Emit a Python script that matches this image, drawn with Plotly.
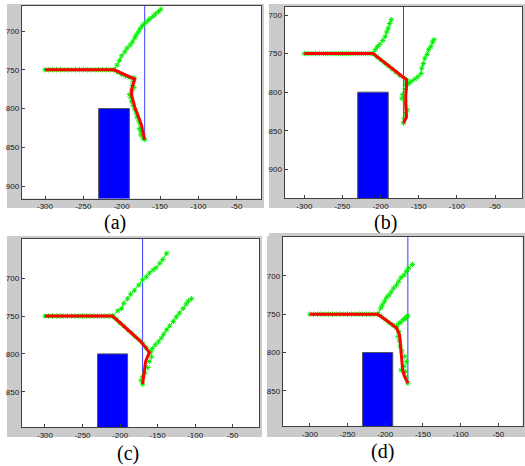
import plotly.graph_objects as go

# ---------------- data ----------------
X_TICKS = [-300, -250, -200, -150, -100, -50]
X_LABELS = ["-300", "-250", "-200", "-150", "-100", "-50"]
Y_TICKS = [700, 750, 800, 850, 900]
Y_LABELS = ["700", "750", "800", "850", "900"]
PANEL_LABELS = ["(a)", "(b)", "(c)", "(d)"]

# obstacle (blue box) and goal line
OBST_X = [-230, -190, -190, -230, -230]
OBST_Y = [800, 800, 1000, 1000, 800]
GOAL_X = [-170, -170]
GOAL_Y = [600, 840]

# common first segment of the tree/path
SEG_X = [-300, -295, -290, -285, -280, -275, -270, -265, -260, -255,
         -250, -245, -240, -235, -230, -225, -220, -215, -210]
SEG_Y = [750, 750, 750, 750, 750, 750, 750, 750, 750, 750,
         750, 750, 750, 750, 750, 750, 750, 750, 750]

# ---- panel (a)
A_PATH_X = [-300, -210, -183, -187, -187, -183, -178, -174, -172, -170]
A_PATH_Y = [750, 750, 762, 775, 783, 798, 811, 822, 832, 840]
A_NODE_X = [-205, -200, -195, -190, -184, -185, -186, -184, -187, -190, -188, -187,
            -185, -183, -181, -180, -178, -176, -177, -175, -175, -172, -170]
A_NODE_Y = [753, 756, 758, 760, 760, 765, 770, 773, 777, 782, 786, 791,
            796, 801, 806, 811, 816, 820, 826, 829, 834, 838, 840]
A_BR1_X = [-210, -206, -203, -200, -196, -193, -189, -186, -183, -181, -178, -176,
           -173, -170, -166, -163, -159, -156, -152, -149]
A_BR1_Y = [750, 744, 738, 732, 727, 722, 718, 714, 709, 705, 701, 697,
           693, 690, 687, 684, 681, 678, 675, 672]

# ---- panel (b)
B_PATH_X = [-300, -210, -166, -166, -167, -167, -166, -170]
B_PATH_Y = [750, 750, 784, 792, 805, 818, 832, 840]
B_NODE_X = [-205, -200, -195, -190, -185, -180, -175, -170, -166, -167, -168, -171,
            -172, -168, -167, -165, -167, -169, -170]
B_NODE_Y = [754, 758, 762, 766, 770, 774, 778, 781, 784, 790, 796, 803,
            808, 812, 818, 823, 828, 834, 840]
B_BR1_X = [-210, -207, -204, -201, -197, -194, -192, -190, -188, -186]
B_BR1_Y = [750, 745, 741, 738, 733, 728, 722, 717, 711, 706]
B_BR2_X = [-166, -163, -160, -155, -151, -147, -146, -144, -142, -139, -137, -134, -132, -130]
B_BR2_Y = [786, 789, 786, 783, 780, 776, 769, 763, 756, 751, 745, 741, 735, 732]

# ---- panel (c)
C_PATH_X = [-300, -210, -172, -161, -166, -168, -169, -170]
C_PATH_Y = [750, 750, 784, 798, 810, 824, 832, 840]
C_NODE_X = [-205, -200, -195, -190, -185, -180, -175, -170, -165, -160, -158, -161,
            -163, -167, -170, -172, -170]
C_NODE_Y = [754, 759, 763, 768, 772, 777, 781, 786, 792, 797, 804, 810,
            818, 825, 830, 835, 840]
C_BR1_X = [-210, -203, -198, -195, -190, -186, -181, -175, -170, -165, -161, -156,
           -152, -147, -143, -138]
C_BR1_Y = [750, 743, 740, 733, 727, 721, 716, 709, 702, 698, 693, 689,
           686, 680, 675, 667]
C_BR2_X = [-160, -157, -153, -149, -145, -142, -138, -134, -129, -125, -121, -116,
           -112, -109, -105]
C_BR2_Y = [798, 793, 788, 784, 779, 774, 768, 763, 757, 751, 746, 740,
           734, 730, 727]

# ---- panel (d)
D_PATH_X = [-300, -210, -200, -185, -181, -180, -178, -177, -175, -170]
D_PATH_Y = [750, 750, 757, 768, 777, 790, 807, 822, 830, 840]
D_NODE_X = [-205, -200, -195, -190, -185, -182, -183, -181, -180, -178, -174, -172,
            -175, -179, -173, -172, -170]
D_NODE_Y = [753, 757, 761, 764, 768, 773, 779, 785, 792, 798, 805, 812,
            818, 823, 825, 833, 840]
D_BR1_X = [-210, -206, -204, -201, -198, -195, -192, -189, -185, -182, -179, -175,
           -172, -169, -164]
D_BR1_Y = [750, 742, 738, 733, 728, 725, 721, 716, 712, 707, 702, 699,
           694, 690, 685]
D_BR2_X = [-185, -182, -179, -176, -174, -172, -170]
D_BR2_Y = [766, 762, 760, 757, 756, 754, 752]

PANELS = [
    dict(path=(A_PATH_X, A_PATH_Y), nodes=(A_NODE_X, A_NODE_Y),
         branches=[(A_BR1_X, A_BR1_Y)]),
    dict(path=(B_PATH_X, B_PATH_Y), nodes=(B_NODE_X, B_NODE_Y),
         branches=[(B_BR1_X, B_BR1_Y), (B_BR2_X, B_BR2_Y)]),
    dict(path=(C_PATH_X, C_PATH_Y), nodes=(C_NODE_X, C_NODE_Y),
         branches=[(C_BR1_X, C_BR1_Y), (C_BR2_X, C_BR2_Y)]),
    dict(path=(D_PATH_X, D_PATH_Y), nodes=(D_NODE_X, D_NODE_Y),
         branches=[(D_BR1_X, D_BR1_Y), (D_BR2_X, D_BR2_Y)]),
]

# ---------------- layout geometry (pixels in a 525x466 page) ----------------
W, H = 525, 466
# plot areas: x0, x1, y_top, y_bottom
AREAS = [(21.7, 261.0, 6.0, 198.5), (284.5, 522.0, 7.0, 198.0),
         (21.7, 259.0, 239.0, 427.0), (282.7, 522.7, 236.7, 426.0)]
RANGES_X = [(-330.4, -18.3), (-326.0, -14.6), (-331.0, -15.0), (-336.0, -17.7)]
RANGES_Y = [(916.1, 667.7), (937.2, 689.6), (896.7, 648.0), (896.0, 648.8)]
# white gutters between the grey figure frames: x0, x1, y_top, y_bottom
GUTTERS = [(0, 7, 0, 466), (0, 525, 0, 4), (0, 525, 437, 466),
           (264, 269, 0, 236), (262, 267, 208, 466),
           (0, 525, 208, 233), (0, 267, 208, 236)]
LABEL_POS = [(115, 222), (385, 222), (128, 453), (382, 451)]

GREEN = "#00F000"
RED = "#FF0000"
BLUE = "#0000FF"
FRAME_GREY = "#CBCBCB"

fig = go.Figure()
layout = dict(width=W, height=H, margin=dict(l=0, r=0, t=0, b=0),
              paper_bgcolor=FRAME_GREY, plot_bgcolor="white", showlegend=False,
              shapes=[], annotations=[])

for gx0, gx1, gyt, gyb in GUTTERS:
    layout["shapes"].append(dict(type="rect", xref="paper", yref="paper",
                                 x0=gx0 / W, x1=gx1 / W, y0=1 - gyb / H, y1=1 - gyt / H,
                                 fillcolor="white", line=dict(width=0), layer="below"))

for i, p in enumerate(PANELS):
    n = "" if i == 0 else str(i + 1)
    xa, ya = "x" + n, "y" + n
    # obstacle
    fig.add_trace(go.Scatter(x=OBST_X, y=OBST_Y, mode="lines", fill="toself",
                             fillcolor=BLUE, line=dict(color="#505060", width=1),
                             xaxis=xa, yaxis=ya, hoverinfo="skip"))
    # goal line
    fig.add_trace(go.Scatter(x=GOAL_X, y=GOAL_Y, mode="lines",
                             line=dict(color="#3c3cff", width=1),
                             xaxis=xa, yaxis=ya, hoverinfo="skip"))
    # tree branches
    marker = dict(symbol="asterisk-open", size=4.5, color=GREEN,
                  line=dict(color=GREEN, width=1))
    for bx, by in p["branches"]:
        fig.add_trace(go.Scatter(x=bx, y=by, mode="lines+markers",
                                 line=dict(color=GREEN, width=1), marker=marker,
                                 xaxis=xa, yaxis=ya, hoverinfo="skip"))
    fig.add_trace(go.Scatter(x=SEG_X, y=SEG_Y, mode="markers", marker=marker,
                             xaxis=xa, yaxis=ya, hoverinfo="skip"))
    fig.add_trace(go.Scatter(x=p["nodes"][0], y=p["nodes"][1], mode="markers",
                             marker=marker, xaxis=xa, yaxis=ya, hoverinfo="skip"))
    # final path
    fig.add_trace(go.Scatter(x=p["path"][0], y=p["path"][1], mode="lines",
                             line=dict(color=RED, width=3),
                             xaxis=xa, yaxis=ya, hoverinfo="skip"))

    x0, x1, yt, yb = AREAS[i]
    axis_common = dict(showgrid=False, zeroline=False, showline=True, mirror=True,
                       linecolor="#404040", linewidth=1, ticks="inside", ticklen=3,
                       tickcolor="#404040",
                       tickfont=dict(family="Arial", size=8, color="#1a1a1a"))
    layout["xaxis" + n] = dict(domain=[x0 / W, x1 / W], range=list(RANGES_X[i]),
                               anchor=ya, tickvals=X_TICKS, ticktext=X_LABELS,
                               **axis_common)
    layout["yaxis" + n] = dict(domain=[1 - yb / H, 1 - yt / H], range=list(RANGES_Y[i]),
                               anchor=xa, tickvals=Y_TICKS, ticktext=Y_LABELS,
                               **axis_common)
    lx, ly = LABEL_POS[i]
    layout["annotations"].append(dict(text=PANEL_LABELS[i], xref="paper", yref="paper",
                                      x=lx / W, y=1 - ly / H, showarrow=False,
                                      xanchor="center", yanchor="middle",
                                      borderpad=0,
                                      font=dict(family="Liberation Serif", size=20,
                                                color="black")))

fig.update_layout(**layout)
fig.write_html("out.html", config={"displayModeBar": False},
               post_script="document.body.style.margin='0';")
